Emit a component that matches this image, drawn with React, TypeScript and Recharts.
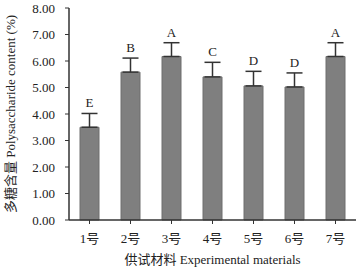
import { BarChart, Bar, XAxis, YAxis, ErrorBar, LabelList, Label } from 'recharts';

const materials = ['1号', '2号', '3号', '4号', '5号', '6号', '7号'];
const content = [3.5, 5.58, 6.17, 5.4, 5.06, 5.02, 6.17];
const sd = [0.52, 0.53, 0.52, 0.55, 0.55, 0.53, 0.52];
const letters = ['E', 'B', 'A', 'C', 'D', 'D', 'A'];
const yTicks = [0, 1, 2, 3, 4, 5, 6, 7, 8];

const data = materials.map((m, i) => ({
  name: m,
  value: content[i],
  err: [0, sd[i]],
  letter: letters[i],
}));

const font = '"Liberation Serif", "Times New Roman", serif';
const cjk = '"Liberation Serif", "Noto Sans CJK SC", serif';

function LetterLabel(props: any) {
  const { x, y, width, height, index } = props;
  const d = data[index];
  const pxPerUnit = height / d.value;
  const top = y - sd[index] * pxPerUnit;
  return (
    <text x={x + width / 2} y={top - 6} textAnchor="middle" fontFamily={font} fontSize={13} fill="#222">
      {d.letter}
    </text>
  );
}

export default function App() {
  return (
    <div style={{ position: 'absolute', left: 0, top: 0, background: '#fff' }}>
      <BarChart width={358} height={270} data={data} margin={{ top: 8, right: 2, bottom: 0, left: 0 }}>
        <XAxis
          dataKey="name"
          height={50}
          tickSize={4}
          tickMargin={10}
          axisLine={{ stroke: '#333', strokeWidth: 1.5 }}
          tickLine={{ stroke: '#333' }}
          tick={{ fill: '#222', fontSize: 13, fontFamily: cjk }}
        >
          <Label value="供试材料 Experimental materials" position="insideBottom" offset={6} fill="#222" fontSize={13} fontFamily={cjk} />
        </XAxis>
        <YAxis
          domain={[0, 8]}
          ticks={yTicks}
          width={69}
          interval={0}
          tickSize={4}
          tickMargin={10}
          tickFormatter={(v: number) => v.toFixed(2)}
          axisLine={{ stroke: '#333', strokeWidth: 1.5 }}
          tickLine={{ stroke: '#333' }}
          tick={{ fill: '#222', fontSize: 13, fontFamily: font }}
        >
          <Label
            value="多糖含量 Polysaccharide content (%)"
            angle={-90}
            position="insideLeft"
            offset={10}
            style={{ textAnchor: 'middle' }}
            fill="#222"
            fontSize={13}
            fontFamily={cjk}
          />
        </YAxis>
        <Bar dataKey="value" barSize={19} fill="#7f7f7f" stroke="#6e6e6e" isAnimationActive={false}>
          <ErrorBar dataKey="err" direction="y" width={8} stroke="#333" strokeWidth={1.5} />
          <LabelList dataKey="letter" content={LetterLabel} />
        </Bar>
      </BarChart>
    </div>
  );
}
